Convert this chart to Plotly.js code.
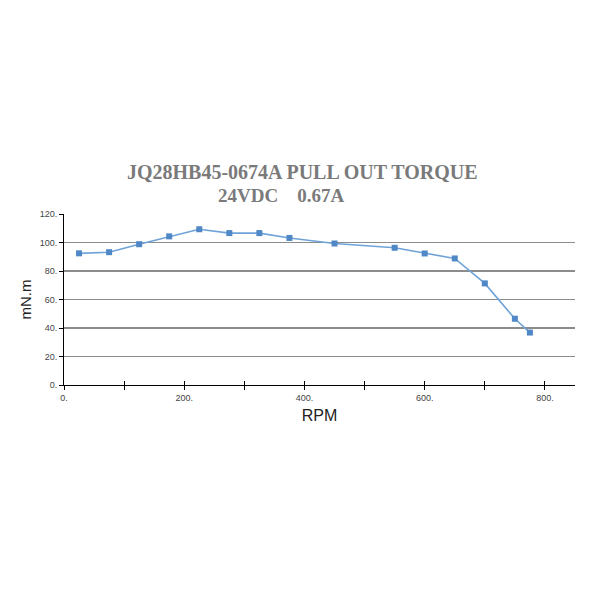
<!DOCTYPE html>
<html><head><meta charset="utf-8">
<script src="https://cdn.plot.ly/plotly-3.0.1.min.js"></script>
<style>html,body{margin:0;padding:0;background:#fff}#c{width:600px;height:600px}</style>
</head><body><div id="c"></div>
<script>
const rpm = [25, 75, 125, 175, 225, 275, 325, 375, 450, 550, 600, 650, 700, 750, 775];
const torque = [92.4, 93.2, 98.8, 104.3, 109.3, 106.6, 106.6, 103.2, 99.3, 96.3, 92.3, 88.8, 71.3, 46.5, 36.8];
const xTickVals = [0, 100, 200, 300, 400, 500, 600, 700, 800];
const xTickText = ['0.', '', '200.', '', '400.', '', '600.', '', '800.'];
const yTickVals = [0, 20, 40, 60, 80, 100, 120];
const yTickText = ['0.', '20.', '40.', '60.', '80.', '100.', '120.'];
const title1 = 'JQ28HB45-0674A PULL OUT TORQUE';
const title2 = '24VDC\u00a0\u00a0\u00a0\u00a00.67A';

const traces = [{
  x: rpm, y: torque, type: 'scatter', mode: 'lines+markers',
  line: {color: '#6fa3d8', width: 1.6},
  marker: {symbol: 'square', size: 6, color: '#4f87c7'},
  hoverinfo: 'skip', showlegend: false
}, {
  x: [0], y: [0], xaxis: 'x2', type: 'scatter', mode: 'markers',
  marker: {opacity: 0}, hoverinfo: 'skip', showlegend: false
}];

const layout = {
  width: 600, height: 600,
  margin: {l: 64, r: 25, t: 214, b: 215},
  paper_bgcolor: '#fff', plot_bgcolor: '#fff',
  font: {family: 'Liberation Sans, Arial, sans-serif', color: '#444'},
  xaxis: {
    range: [0, 850], showgrid: false, zeroline: false,
    showline: true, linecolor: '#000', linewidth: 1,
    tickmode: 'array', tickvals: xTickVals, ticktext: xTickText,
    ticks: 'outside', ticklen: 4, tickcolor: '#000', tickwidth: 1,
    tickfont: {size: 9, color: '#444'},
    title: {text: 'RPM', font: {size: 16, color: '#222'}, standoff: 8}
  },
  xaxis2: {
    range: [0, 850], overlaying: 'x', anchor: 'y', showgrid: false, zeroline: false,
    tickmode: 'array', tickvals: xTickVals.slice(1),
    ticks: 'inside', ticklen: 4, tickcolor: '#000', showticklabels: false, side: 'bottom'
  },
  yaxis: {
    range: [0, 120], zeroline: false,
    showline: true, linecolor: '#000', linewidth: 1,
    showgrid: true, gridcolor: '#8c8c8c', gridwidth: 1.5,
    tickmode: 'array', tickvals: yTickVals, ticktext: yTickText,
    ticks: 'outside', ticklen: 4, tickcolor: '#000',
    tickfont: {size: 9, color: '#444'},
    title: {text: 'mN.m', font: {size: 15, color: '#222'}, standoff: 4}
  },
  annotations: [
    {text: '<b>' + title1 + '</b>', xref: 'paper', yref: 'paper', x: 0.466, y: 1.245,
     xanchor: 'center', yanchor: 'middle', showarrow: false,
     font: {family: 'Liberation Serif, Times New Roman, serif', size: 20, color: '#7a7a7a'}},
    {text: '<b>' + title2 + '</b>', xref: 'paper', yref: 'paper', x: 0.297, y: 1.11,
     xanchor: 'left', yanchor: 'middle', showarrow: false,
     font: {family: 'Liberation Serif, Times New Roman, serif', size: 19, color: '#7a7a7a'}}
  ]
};
Plotly.newPlot('c', traces, layout, {displayModeBar: false, staticPlot: true});
</script></body></html>
